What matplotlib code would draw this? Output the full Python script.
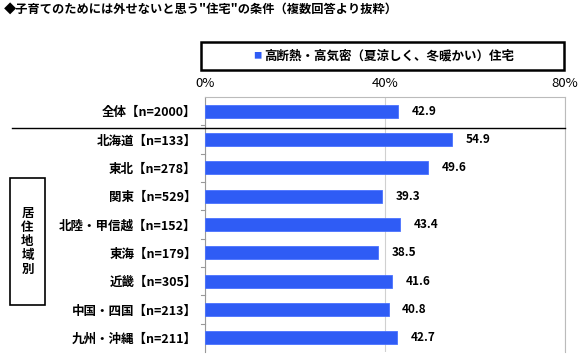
import matplotlib.pyplot as plt
from matplotlib.patches import Rectangle

plt.rcParams['font.family'] = ['Noto Sans CJK JP', 'DejaVu Sans']

# data
labels = ['全体【n=2000】', '北海道【n=133】', '東北【n=278】', '関東【n=529】',
          '北陸・甲信越【n=152】', '東海【n=179】', '近畿【n=305】',
          '中国・四国【n=213】', '九州・沖縄【n=211】']
values = [42.9, 54.9, 49.6, 39.3, 43.4, 38.5, 41.6, 40.8, 42.7]
series_name = '高断熱・高気密（夏涼しく、冬暖かい）住宅'
title = '◆子育てのためには外せないと思う"住宅"の条件（複数回答より抜粋）'
group_label = '居\n住\n地\n域\n別'
xticks = [0, 40, 80]

fig = plt.figure(figsize=(5.8, 3.56), dpi=100)
# axes: x 205..565 px, y 97..352 px
ax = fig.add_axes([205 / 580, 1 - 352 / 356, 360 / 580, 255 / 356])

y = list(range(len(labels)))
ax.barh(y, values, height=0.45, color='#2f5cf5', edgecolor='#4a72ff', linewidth=0.6, zorder=3)
for yi, v in zip(y, values):
    ax.text(v + 3, yi, f'{v:.1f}', va='center', ha='left', fontsize=8.5, fontweight='bold')

ax.set_xlim(0, 80)
ax.set_ylim(len(labels) - 0.5, -0.5)
ax.set_xticks(xticks)
ax.set_xticklabels([f'{t}%' for t in xticks], fontsize=9.5)
ax.xaxis.tick_top()
ax.tick_params(axis='x', length=0, pad=5)
ax.grid(axis='x', color='#d0d0d0', linewidth=0.8, zorder=0)

ax.set_yticks(y)
ax.set_yticklabels(labels, fontsize=9, fontweight='bold')
ax.tick_params(axis='y', length=0, pad=6)
# small tick marks between categories on the left spine
for b in [i + 0.5 for i in range(len(labels) - 1)]:
    ax.plot([-0.8, 0], [b, b], color='#999999', linewidth=0.8, clip_on=False)

for s in ['top', 'right', 'left', 'bottom']:
    ax.spines[s].set_color('#bbbbbb')
ax.spines['left'].set_color('#999999')
ax.spines['bottom'].set_visible(False)

# separator under 全体
fig.add_artist(plt.Line2D([12 / 580, 565 / 580], [1 - 128 / 356, 1 - 128 / 356],
                          color='black', linewidth=1))

# title
fig.text(4 / 580, 1 - 9 / 356, title, fontsize=8.8, fontweight='bold', va='center', ha='left')

# legend box
fig.add_artist(Rectangle((201 / 580, 1 - 70 / 356), 363 / 580, 28 / 356,
                         transform=fig.transFigure, fill=False, edgecolor='black', linewidth=1.8))
fig.text(262 / 580, 1 - 56 / 356, '■', color='#2f5cf5', fontsize=6, va='center', ha='right')
fig.text(264 / 580, 1 - 56 / 356, series_name, fontsize=9, fontweight='bold', va='center', ha='left')

# group box
fig.add_artist(Rectangle((10 / 580, 1 - 305 / 356), 35 / 580, 127 / 356,
                         transform=fig.transFigure, fill=False, edgecolor='black', linewidth=1.2))
fig.text(27.5 / 580, 1 - 241 / 356, group_label, fontsize=9, fontweight='bold',
         va='center', ha='center', linespacing=1.1)

fig.savefig('out.png', dpi=100)
